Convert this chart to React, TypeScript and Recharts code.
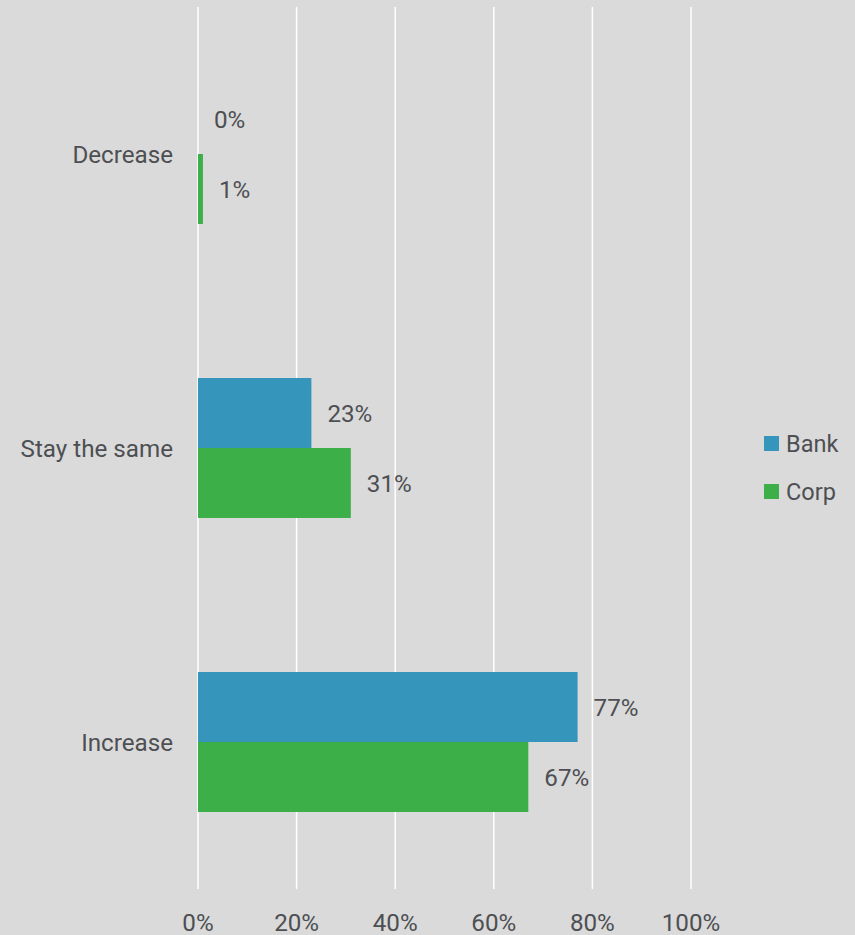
import React from 'react';
import { BarChart, Bar, XAxis, YAxis, CartesianGrid, Legend, LabelList } from 'recharts';

const categories = ['Decrease', 'Stay the same', 'Increase'];
const bankValues = [0, 23, 77];
const corpValues = [1, 31, 67];
const xTicks = [0, 20, 40, 60, 80, 100];

const BANK_COLOR = '#3595BA';
const CORP_COLOR = '#3CAF49';
const TEXT_COLOR = '#4d4f53';
const BG = '#dadada';
const FONT = 'Roboto, "Noto Sans", sans-serif';
const FS = 24.2;

const data = categories.map((name, i) => ({ name, Bank: bankValues[i], Corp: corpValues[i] }));

const LegendContent = () => (
  <div style={{ width: 164, boxSizing: 'border-box', paddingLeft: 73, fontFamily: FONT, fontSize: 23.5, color: TEXT_COLOR }}>
    {[
      { label: 'Bank', color: BANK_COLOR },
      { label: 'Corp', color: CORP_COLOR },
    ].map((it) => (
      <div key={it.label} style={{ height: 48, display: 'flex', alignItems: 'center' }}>
        <span style={{ display: 'inline-block', width: 15, height: 15, background: it.color, marginRight: 7 }} />
        <span>{it.label}</span>
      </div>
    ))}
  </div>
);

export default function App() {
  return (
    <div style={{ position: 'absolute', left: 0, top: 0, width: 855, height: 935, background: BG }}>
      <BarChart
        width={855}
        height={935}
        data={data}
        layout="vertical"
        margin={{ top: 7, right: 0, bottom: 0, left: 0 }}
        barGap={0}
        style={{ fontFamily: FONT }}
      >
        <CartesianGrid horizontal={false} vertical={true} stroke="#ffffff" strokeWidth={1.5} />
        <XAxis
          type="number"
          domain={[0, 100]}
          ticks={xTicks}
          tickFormatter={(v: number) => `${v}%`}
          axisLine={false}
          tickLine={false}
          tickSize={0}
          tickMargin={25}
          height={46}
          interval={0}
          tick={{ fontSize: FS, fill: TEXT_COLOR, fontFamily: FONT }}
        />
        <YAxis
          type="category"
          dataKey="name"
          width={198}
          axisLine={false}
          tickLine={false}
          tickSize={0}
          tickMargin={25}
          interval={0}
          tick={{ fontSize: FS, fill: TEXT_COLOR, fontFamily: FONT }}
        />
        <Legend
          layout="vertical"
          align="right"
          verticalAlign="middle"
          content={<LegendContent />}
        />
        <Bar dataKey="Bank" fill={BANK_COLOR} barSize={70} minPointSize={0.01} isAnimationActive={false}>
          <LabelList
            dataKey="Bank"
            position="right"
            offset={16}
            formatter={(v: number) => `${v}%`}
            style={{ fontSize: FS, fill: TEXT_COLOR, fontFamily: FONT }}
          />
        </Bar>
        <Bar dataKey="Corp" fill={CORP_COLOR} barSize={70} isAnimationActive={false}>
          <LabelList
            dataKey="Corp"
            position="right"
            offset={16}
            formatter={(v: number) => `${v}%`}
            style={{ fontSize: FS, fill: TEXT_COLOR, fontFamily: FONT }}
          />
        </Bar>
      </BarChart>
    </div>
  );
}
